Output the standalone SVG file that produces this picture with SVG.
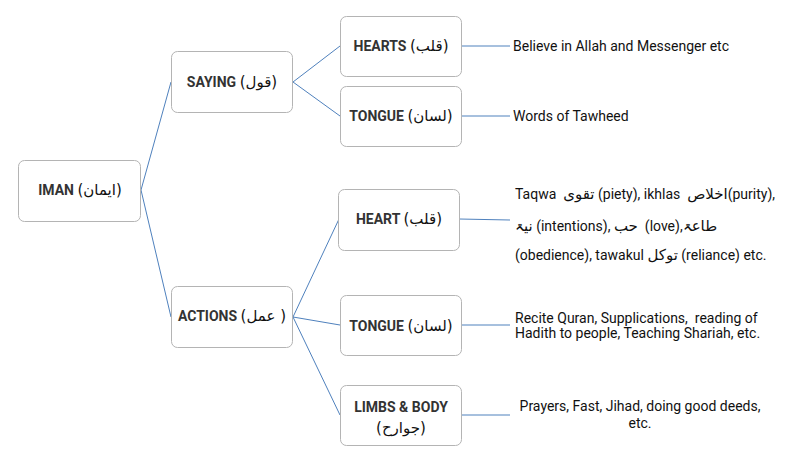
<svg xmlns="http://www.w3.org/2000/svg" width="800" height="462" viewBox="0 0 800 462">
<style>
.box{fill:#fff;stroke:#b4b4b4;stroke-width:1}
.lbl{font-family:Roboto,"DejaVu Sans",sans-serif;font-size:14px;font-weight:bold;fill:#333;text-anchor:middle}
.ar{font-family:"DejaVu Sans",sans-serif;font-size:15px;font-weight:normal;fill:#111}
.txt{font-family:Roboto,"DejaVu Sans",sans-serif;font-size:14px;fill:#111;white-space:pre}
.con{stroke:#4f81bd;stroke-width:1;fill:none}
</style>
<rect width="800" height="462" fill="#fff"/>
<g id="connectors">
<path class="con" d="M141 190 L171 82 M141 190 L171 317 M293 82 L340 46 M293 82 L340 116 M293 317 L339 219 M293 317 L340 325 M293 317 L340 415 M462 46 L510 46 M462 116 L510 116 M459 219 L510 220 M462 325 L510 325 M462 415 L510 415"/>
</g>
<g id="iman">
<rect class="box" x="18.5" y="160.5" width="122" height="61" rx="6"/>
<text class="lbl" x="80" y="195">IMAN <tspan class="ar">(ایمان)</tspan></text>
</g>
<g id="saying">
<rect class="box" x="171.5" y="51.5" width="121" height="61" rx="6"/>
<text class="lbl" x="232" y="87">SAYING <tspan class="ar">(قول)</tspan></text>
</g>
<g id="actions">
<rect class="box" x="171.5" y="286.5" width="121" height="61" rx="6"/>
<text class="lbl" x="232" y="321">ACTIONS <tspan class="ar">(عمل )</tspan></text>
</g>
<g id="hearts">
<rect class="box" x="340.5" y="16.5" width="121" height="60" rx="6"/>
<text class="lbl" x="401" y="51">HEARTS <tspan class="ar">(قلب)</tspan></text>
</g>
<g id="tongue1">
<rect class="box" x="340.5" y="86.5" width="121" height="60" rx="6"/>
<text class="lbl" x="401" y="121">TONGUE <tspan class="ar">(لسان)</tspan></text>
</g>
<g id="heart">
<rect class="box" x="338.5" y="189.5" width="121" height="61" rx="6"/>
<text class="lbl" x="399" y="224">HEART <tspan class="ar">(قلب)</tspan></text>
</g>
<g id="tongue2">
<rect class="box" x="340.5" y="295.5" width="121" height="60" rx="6"/>
<text class="lbl" x="401" y="331">TONGUE <tspan class="ar">(لسان)</tspan></text>
</g>
<g id="limbs">
<rect class="box" x="340.5" y="385.5" width="121" height="60" rx="6"/>
<text class="lbl" x="401" y="412">LIMBS &amp; BODY</text>
<text class="lbl" x="401" y="433"><tspan class="ar">(جوارح)</tspan></text>
</g>
<g id="descriptions">
<text class="txt" x="513" y="51">Believe in Allah and Messenger etc</text>
<text class="txt" x="513" y="121">Words of Tawheed</text>
<text class="txt" x="515" y="199">Taqwa  <tspan class="ar">تقوی</tspan> (piety), ikhlas  <tspan class="ar">اخلاص</tspan>(purity),</text>
<text class="txt" x="515" y="231"><tspan class="ar">نیۃ</tspan> (intentions), <tspan class="ar">حب</tspan>  (love),<tspan class="ar">طاعۃ</tspan></text>
<text class="txt" x="515" y="260">(obedience), tawakul <tspan class="ar">توکل</tspan> (reliance) etc.</text>
<text class="txt" x="515" y="323">Recite Quran, Supplications,  reading of</text>
<text class="txt" x="515" y="338">Hadith to people, Teaching Shariah, etc.</text>
<text class="txt" x="640" y="411" text-anchor="middle">Prayers, Fast, Jihad, doing good deeds,</text>
<text class="txt" x="640" y="428" text-anchor="middle">etc.</text>
</g>
</svg>
